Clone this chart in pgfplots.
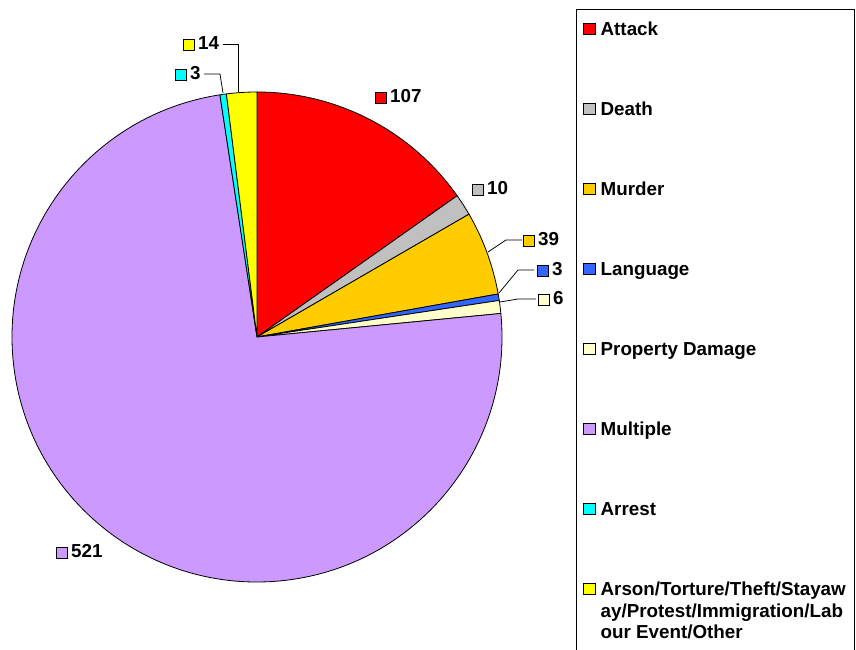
\documentclass[border=0pt]{standalone}
\usepackage{pgfplots}
\pgfplotsset{compat=1.18}
\usepackage{fontspec}
\setmainfont{Liberation Sans}
\definecolor{cattack}{HTML}{FF0000}
\definecolor{cdeath}{HTML}{C0C0C0}
\definecolor{cmurder}{HTML}{FFCC00}
\definecolor{clanguage}{HTML}{3366FF}
\definecolor{cproperty}{HTML}{FFFFCC}
\definecolor{cmultiple}{HTML}{CC99FF}
\definecolor{carrest}{HTML}{00FFFF}
\definecolor{carson}{HTML}{FFFF00}
\newcommand{\lbl}[2]{{\setlength{\fboxsep}{0pt}\setlength{\fboxrule}{0.75pt}\fcolorbox{black}{#1}{\rule{0pt}{10pt}\rule{10pt}{0pt}}}\hspace{3.5pt}#2}
\newcommand{\lent}[1]{\parbox[t]{247pt}{\raggedright\rule[-4pt]{0pt}{18pt}#1}}
\begin{document}
\begin{tikzpicture}[font=\fontsize{18.8}{21.7}\selectfont\bfseries]
\begin{axis}[name=ax, hide axis, scale only axis, width=856pt, height=650pt,
  xmin=0, xmax=856, ymin=0, ymax=650, clip=false,
  legend image code/.code={\draw[#1, line width=0.75pt] (0pt,1pt) rectangle (11.5pt,12.5pt);},
  legend style={at={(0.6729,0.98615)}, anchor=north west, draw=black, line width=0.8pt,
    inner xsep=7pt, inner ysep=12pt, row sep=62pt,
    font=\fontsize{18.8}{21.7}\selectfont\bfseries,
    cells={anchor=base west}, nodes={inner sep=0pt, text depth=},
    /tikz/every odd column/.append style={column sep=5pt}},
]
\addlegendimage{fill=cattack, draw=black}\addlegendentry{\lent{Attack}}
\addlegendimage{fill=cdeath, draw=black}\addlegendentry{\lent{Death}}
\addlegendimage{fill=cmurder, draw=black}\addlegendentry{\lent{Murder}}
\addlegendimage{fill=clanguage, draw=black}\addlegendentry{\lent{Language}}
\addlegendimage{fill=cproperty, draw=black}\addlegendentry{\lent{Property Damage}}
\addlegendimage{fill=cmultiple, draw=black}\addlegendentry{\lent{Multiple}}
\addlegendimage{fill=carrest, draw=black}\addlegendentry{\lent{Arrest}}
\addlegendimage{fill=carson, draw=black}\addlegendentry{\lent{Arson/Torture/Theft/Stayaw\\ay/Protest/Immigration/Lab\\our Event/Other}}
% pie slices: value / colour, clockwise from 12 o'clock (total 703)
\pgfplotsextra{
  \xdef\cum{0}
  \foreach \v/\c in {107/cattack, 10/cdeath, 39/cmurder, 3/clanguage, 6/cproperty, 521/cmultiple, 3/carrest, 14/carson}{
    \pgfmathsetmacro\sa{90-(\cum/703)*360}
    \pgfmathsetmacro\ea{90-((\cum+\v)/703)*360}
    \filldraw[fill=\c, draw=black, line width=0.8pt, line join=round]
      (axis cs:257,313) -- ++(\sa:245pt) arc[start angle=\sa, end angle=\ea, radius=245pt] -- cycle;
    \pgfmathsetmacro\n{\cum+\v}
    \xdef\cum{\n}
  }
}
% leader lines
\draw[line width=0.75pt] (axis cs:223,606) -- (axis cs:238,606) -- (axis cs:238,558);
\draw[line width=0.75pt] (axis cs:204,576) -- (axis cs:220,576) -- (axis cs:223,557);
\draw[line width=0.75pt] (axis cs:522,410) -- (axis cs:506,410) -- (axis cs:488,398);
\draw[line width=0.75pt] (axis cs:534,380) -- (axis cs:518,380) -- (axis cs:499,357);
\draw[line width=0.75pt] (axis cs:536,351) -- (axis cs:518,351) -- (axis cs:500,348);
% data labels
\node[anchor=base west, inner sep=0pt] at (axis cs:375,547) {\lbl{cattack}{107}};
\node[anchor=base west, inner sep=0pt] at (axis cs:472,455) {\lbl{cdeath}{10}};
\node[anchor=base west, inner sep=0pt] at (axis cs:523,404) {\lbl{cmurder}{39}};
\node[anchor=base west, inner sep=0pt] at (axis cs:537,374) {\lbl{clanguage}{3}};
\node[anchor=base west, inner sep=0pt] at (axis cs:538,345) {\lbl{cproperty}{6}};
\node[anchor=base west, inner sep=0pt] at (axis cs:56,92) {\lbl{cmultiple}{521}};
\node[anchor=base west, inner sep=0pt] at (axis cs:175,570) {\lbl{carrest}{3}};
\node[anchor=base west, inner sep=0pt] at (axis cs:183,600) {\lbl{carson}{14}};
\end{axis}
\pgfresetboundingbox
\path (ax.south west) rectangle (ax.north east);
\end{tikzpicture}
\end{document}
